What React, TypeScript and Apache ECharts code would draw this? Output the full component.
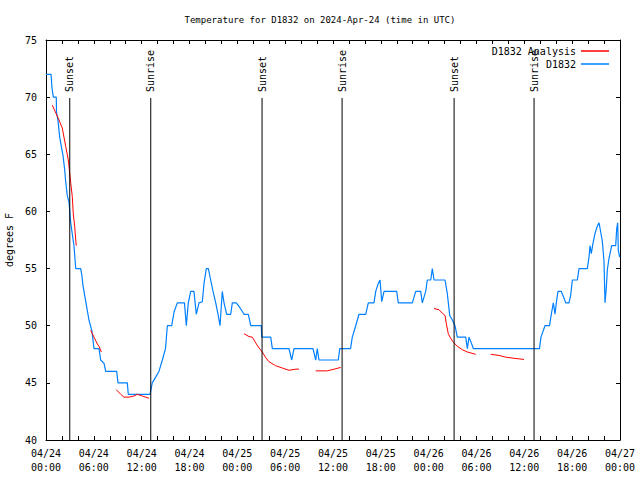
import React, { useEffect, useRef } from "react";
import * as echarts from "echarts";

const chartTitle = "Temperature for D1832 on 2024-Apr-24 (time in UTC)";
const xTickLabels = [
  "04/24\n00:00", "04/24\n06:00", "04/24\n12:00", "04/24\n18:00",
  "04/25\n00:00", "04/25\n06:00", "04/25\n12:00", "04/25\n18:00",
  "04/26\n00:00", "04/26\n06:00", "04/26\n12:00", "04/26\n18:00",
  "04/27\n00:00",
];

// hours since 2024-04-24 00:00 UTC
const blueHours = [
  0, 0.63, 0.75, 0.92, 1.29, 1.32, 1.51, 1.72, 1.92, 2.13, 2.35, 2.47, 2.67, 2.89, 3.1, 3.3, 3.51, 3.73,
  4.35, 4.48, 4.64, 4.89, 5.14, 5.39, 5.77, 6.02, 6.65, 6.86, 7.28, 7.49, 8.87, 9.03, 10.2, 10.32,
  13.05, 13.33, 13.76, 14.17, 14.59, 14.99, 15.22, 15.77, 16.06, 16.47, 17.37, 17.6, 17.85, 18.15,
  18.56, 18.85, 19.19, 19.61, 19.82, 20.11, 20.36, 20.66, 20.95, 21.29, 21.58, 21.83, 22.11, 22.33,
  22.67, 23.17, 23.37, 23.87, 24.21, 24.84, 25.38, 25.68, 27.01, 27.06, 28.19, 28.39, 30.48, 30.82,
  31.11, 33.49, 33.83, 34.03, 34.24, 36.67, 36.84, 38.2, 38.42, 38.85, 39.26, 40.1, 40.43, 41.14,
  41.36, 41.68, 41.9, 42.11, 42.4, 43.99, 44.19, 45.95, 46.38, 47.0, 47.2, 47.63, 47.83, 48.26,
  48.46, 48.67, 50.05, 50.34, 50.64, 50.97, 51.3, 51.59, 52.65, 52.85, 53.06, 53.35, 53.6, 61.9,
  62.09, 62.59, 63.16, 63.38, 63.64, 63.85, 64.01, 64.22, 64.64, 64.98, 65.19, 65.6, 65.82, 66.02,
  66.65, 66.86, 67.9, 68.11, 68.24, 68.4, 68.61, 68.87, 69.15, 69.37, 69.58, 69.78, 69.99, 70.12,
  70.28, 70.41, 70.62, 70.96, 71.46, 71.59, 71.71, 71.79, 71.96,
];
const blueTemps = [
  72, 72, 70.8, 70, 70, 68.7, 67.9, 66.5, 65.7, 64.9, 63.6, 62.6, 61.4, 60.8, 59, 58, 57, 55,
  55, 54.5, 53.5, 52.5, 51.5, 50.5, 49.5, 48, 48, 47, 46.7, 46, 46, 45, 45, 44,
  44, 45, 45.5, 46, 47, 48, 50, 50, 51.2, 52, 52, 50, 52, 53,
  53, 51, 52, 52.1, 53.7, 55, 55, 54, 53, 52, 51, 50, 53, 52,
  51, 51, 52, 52, 51.7, 51, 51, 50, 50, 49, 49, 48, 48, 47,
  48, 48, 47, 48, 47, 47, 48, 48, 49, 50, 51, 51, 52, 52,
  53, 53.7, 54, 52.1, 53, 53, 52, 52, 53, 53, 52, 53, 54, 54,
  55, 54, 54, 52.8, 50.9, 50.5, 50, 49, 49, 48, 49, 48.5, 48, 48,
  49, 50, 50, 51, 52, 51, 52, 53, 53, 52.4, 52, 52, 52.7, 54,
  54, 55, 55, 56, 57, 56.3, 57.2, 58.1, 58.7, 59, 58.2, 57.4, 55.7, 52,
  53.3, 54.9, 55.9, 57, 57, 58.5, 59, 56.6, 56,
];

// null marks a gap in the analysis series
const redHours = [
  0.79, 1.63, 2.04, 2.47, 2.8, 3.1, 3.3, 3.42, 3.6, 3.73, 3.8, 4.5,
  5.61, 6.02, 6.44, 6.65, 6.94, 7.5,
  8.82, 9.37, 9.78, 10.41, 11.04, 11.45, 12.08, 12.51, 12.92, 18,
  24.84, 25.46, 25.88, 26.3, 26.72, 27.13, 27.56, 27.97, 28.81, 29.64, 30.48, 31.32, 31.74, 32.5,
  33.83, 35.29, 36.13, 36.97, 42,
  48.67, 49.3, 49.71, 50.05, 50.21, 50.46, 50.76, 51.05, 51.59, 52.22, 52.85, 53.9, 54.5,
  55.78, 56.82, 57.66, 58.7, 59.96,
];
const redTemps = [
  69.3, 68, 67.3, 65.7, 64.5, 62.5, 61.3, 59.8, 58.7, 57.5, 57, null,
  49.6, 49, 48.4, 48.2, 47.7, null,
  44.4, 44.0, 43.75, 43.75, 43.85, 44, 43.85, 43.75, 43.65, null,
  49.3, 49.05, 49, 48.5, 48.05, 47.7, 47.2, 46.85, 46.5, 46.3, 46.1, 46.2, 46.2, null,
  46.05, 46.05, 46.2, 46.35, null,
  51.5, 51.4, 51.1, 50.9, 50.2, 49.3, 48.9, 48.6, 48.2, 47.9, 47.7, 47.5, null,
  47.5, 47.4, 47.25, 47.15, 47.05,
];

const sunHours = [2.98, 13.14, 27.1, 37.14, 51.19, 61.22];
const sunLabels = ["Sunset", "Sunrise", "Sunset", "Sunrise", "Sunset", "Sunrise"];

const FONT = "'DejaVu Sans Mono', 'Liberation Mono', monospace";

export default function App() {
  const ref = useRef<HTMLDivElement>(null);
  useEffect(() => {
    if (!ref.current) return;
    const chart = echarts.init(ref.current, null, { renderer: "svg" });
    const tickStyle = { show: true, inside: true, length: 4, lineStyle: { color: "#000", width: 1 } };
    const minorStyle = { show: true, splitNumber: 3, length: 4, lineStyle: { color: "#000", width: 1 } };
    const axisLine = { show: true, onZero: false, lineStyle: { color: "#000", width: 1 } };
    const xBase = {
      type: "value" as const,
      min: 0,
      max: 72,
      interval: 6,
      axisLine,
      axisTick: tickStyle,
      minorTick: minorStyle,
      splitLine: { show: false },
      minorSplitLine: { show: false },
    };
    const yBase = {
      type: "value" as const,
      min: 40,
      max: 75,
      interval: 5,
      axisLine,
      axisTick: tickStyle,
      splitLine: { show: false },
    };
    const legendCommon = {
      right: 26,
      align: "right" as const,
      icon: "rect",
      itemWidth: 28,
      itemHeight: 1.5,
      itemGap: 0,
      textStyle: { fontFamily: FONT, fontSize: 10, color: "#000" },
    };
    chart.setOption({
      animation: false,
      backgroundColor: "#fff",
      title: {
        text: chartTitle,
        left: "center",
        top: 10,
        textStyle: { fontFamily: FONT, fontSize: 9, fontWeight: "normal", color: "#000" },
      },
      legend: [
        { ...legendCommon, data: ["D1832 Analysis"], top: 41 },
        { ...legendCommon, data: ["D1832"], top: 54 },
      ],
      grid: {
        left: 46,
        right: 20,
        top: 40,
        bottom: 40,
        containLabel: false,
        outerBoundsMode: "none",
      },
      xAxis: [
        {
          ...xBase,
          position: "bottom",
          axisLabel: {
            show: true,
            margin: 6,
            fontFamily: FONT,
            fontSize: 10,
            lineHeight: 14,
            color: "#000",
            formatter: (v: number) => xTickLabels[Math.round(v / 6)] ?? "",
          },
        },
        { ...xBase, position: "top", axisLabel: { show: false } },
      ],
      yAxis: [
        {
          ...yBase,
          position: "left",
          name: "degrees F",
          nameLocation: "middle",
          nameRotate: 90,
          nameGap: 30,
          nameTextStyle: { fontFamily: FONT, fontSize: 10, color: "#000" },
          axisLabel: { show: true, margin: 9, fontFamily: FONT, fontSize: 10, color: "#000" },
        },
        { ...yBase, position: "right", axisLabel: { show: false } },
      ],
      series: [
        {
          name: "D1832",
          type: "line",
          xAxisIndex: 0,
          yAxisIndex: 0,
          symbol: "none",
          data: blueHours.map((h, i) => [h, blueTemps[i]]),
          lineStyle: { color: "#0080ff", width: 1.2 },
          itemStyle: { color: "#0080ff" },
          z: 2,
        },
        {
          name: "D1832 Analysis",
          type: "line",
          xAxisIndex: 0,
          yAxisIndex: 0,
          symbol: "none",
          connectNulls: false,
          data: redHours.map((h, i) => [h, redTemps[i] === null ? "-" : redTemps[i]]),
          lineStyle: { color: "#ff0000", width: 1 },
          itemStyle: { color: "#ff0000" },
          z: 3,
        },
        {
          name: "sun",
          type: "custom",
          xAxisIndex: 0,
          yAxisIndex: 0,
          z: 5,
          clip: false,
          data: sunHours.map((h) => [h, 40]),
          renderItem: (params: any, api: any) => {
            const h = api.value(0);
            const bottom = api.coord([h, 40]);
            const top = api.coord([h, 75]);
            const lineTop = top[1] + 58;
            return {
              type: "group",
              children: [
                {
                  type: "line",
                  shape: { x1: bottom[0], y1: lineTop, x2: bottom[0], y2: bottom[1] },
                  style: { stroke: "#000", lineWidth: 1 },
                },
                {
                  type: "text",
                  x: bottom[0],
                  y: lineTop - 6,
                  rotation: Math.PI / 2,
                  style: {
                    text: sunLabels[params.dataIndex],
                    fill: "#000",
                    fontFamily: FONT,
                    fontSize: 10,
                    align: "left",
                    verticalAlign: "middle",
                  },
                },
              ],
            };
          },
        },
      ],
    });
    return () => chart.dispose();
  }, []);
  return <div ref={ref} style={{ width: 640, height: 480, position: "absolute", left: 0, top: 0 }} />;
}
